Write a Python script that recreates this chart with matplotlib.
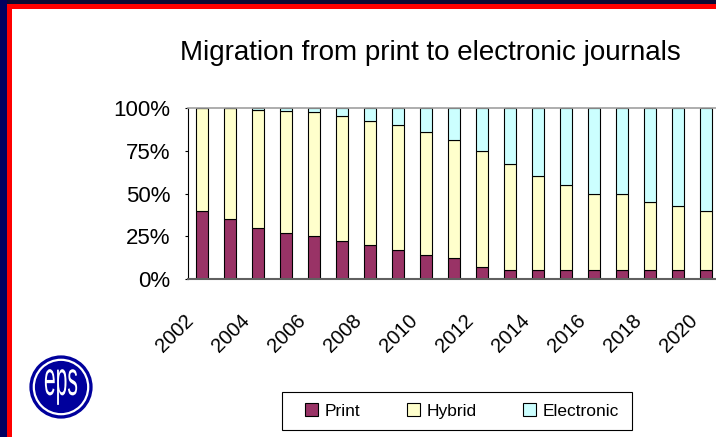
import matplotlib.pyplot as plt
from matplotlib.patches import Rectangle, Circle, PathPatch
from matplotlib.textpath import TextPath
from matplotlib.font_manager import FontProperties
from matplotlib.transforms import Affine2D, ScaledTranslation

plt.rcParams["font.family"] = ["Liberation Sans", "DejaVu Sans"]

years = list(range(2002, 2021))
print_share = [40, 35, 30, 27, 25, 22, 20, 17, 14, 12, 7, 5, 5, 5, 5, 5, 5, 5, 5]
hybrid_share = [60, 65, 69, 71.5, 72.5, 73.5, 72.5, 73, 72, 69, 68, 62.5, 55, 50, 45, 45, 40, 37.5, 35]
electronic_share = [0, 0, 1, 1.5, 2.5, 4.5, 7.5, 10, 14, 19, 25, 32.5, 40, 45, 50, 50, 55, 57.5, 60]
series_names = ["Print", "Hybrid", "Electronic"]
y_ticks = [0, 25, 50, 75, 100]
y_labels = ["0%", "25%", "50%", "75%", "100%"]

C_PRINT = "#993366"
C_HYB = "#FFFFCC"
C_ELEC = "#CCFFFF"

fig = plt.figure(figsize=(7.16, 4.37), dpi=100)
fig.patch.set_facecolor("white")

# frame: navy outer, red inner
W, H = 716, 437
def frect(x, y, w, h, c, edge="none", lw=0):
    fig.patches.append(Rectangle((x / W, 1 - (y + h) / H), w / W, h / H,
                                 transform=fig.transFigure, facecolor=c,
                                 edgecolor=edge, linewidth=lw, zorder=0))
frect(0, 0, W, 4, "#0a0a33")
frect(0, 0, 7, H, "#000060")
frect(7, 4, W, 5, "#ff0000")
frect(7, 4, 5, H, "#ff0000")

ax = fig.add_axes([188 / W, 1 - 279 / H, 532 / W, 171 / H])
x = list(range(len(years)))
bw = 0.44
ax.bar(x, print_share, bw, color=C_PRINT, edgecolor="black", linewidth=0.8, label=series_names[0])
ax.bar(x, hybrid_share, bw, bottom=print_share, color=C_HYB, edgecolor="black",
       linewidth=0.8, label=series_names[1])
bott = [p + h for p, h in zip(print_share, hybrid_share)]
ax.bar(x, electronic_share, bw, bottom=bott, color=C_ELEC, edgecolor="black",
       linewidth=0.8, label=series_names[2])

ax.set_xlim(-0.5, len(years) - 0.5)
ax.set_ylim(0, 100)
ax.set_yticks(y_ticks)
ax.set_yticklabels(y_labels, fontsize=16)
ax.tick_params(axis="y", length=2.5, width=0.8, pad=10)
ax.set_xticks(x[::2])
ax.set_xticklabels([str(y) for y in years[::2]], fontsize=14.5, rotation=45,
                   ha="right", va="top")
ax.tick_params(axis="x", length=0, pad=23)
shift = ScaledTranslation(-5 / 100, 0, fig.dpi_scale_trans)
for lab in ax.get_xticklabels():
    lab.set_transform(lab.get_transform() + shift)

ax.spines["right"].set_visible(False)
ax.spines["left"].set_color("black")
ax.spines["left"].set_linewidth(0.8)
ax.spines["bottom"].set_color("#606060")
ax.spines["bottom"].set_linewidth(1.5)
ax.spines["top"].set_color("#a0a0a0")
ax.spines["top"].set_linewidth(1.2)

fig.text(430 / W, 1 - 53 / H, "Migration from print to electronic journals",
         ha="center", va="center", fontsize=20)

# legend box drawn by hand, entries without frame
frect(282, 392, 350, 38, "none", edge="black", lw=0.8)
leg = fig.legend(loc="center", bbox_to_anchor=(462 / W, 1 - 411 / H), ncol=3,
                 fontsize=12.5, frameon=False, handlelength=0.75,
                 handleheight=0.75, handletextpad=0.4, columnspacing=2.65,
                 borderpad=0.0)

# eps logo
lax = fig.add_axes([27 / W, 1 - 421 / H, 68 / W, 68 / H])
lax.set_xlim(-1, 1)
lax.set_ylim(-1, 1)
lax.set_aspect("equal")
lax.axis("off")
lax.add_patch(Circle((0, 0), 0.93, facecolor="#00009c", edgecolor="none"))
lax.add_patch(Circle((0, 0), 0.8, facecolor="none", edgecolor="white", linewidth=1.6))
tp = TextPath((0, 0), "eps", size=1, prop=FontProperties(family="Liberation Sans"))
bb = tp.get_extents()
tr = (Affine2D().translate(-(bb.x0 + bb.x1) / 2, -(bb.y0 + bb.y1) / 2)
      .scale(0.95 / bb.width, 1.05 / bb.height))
lax.add_patch(PathPatch(tr.transform_path(tp), facecolor="white", edgecolor="none"))

fig.savefig("out.png", dpi=100, facecolor="white")
